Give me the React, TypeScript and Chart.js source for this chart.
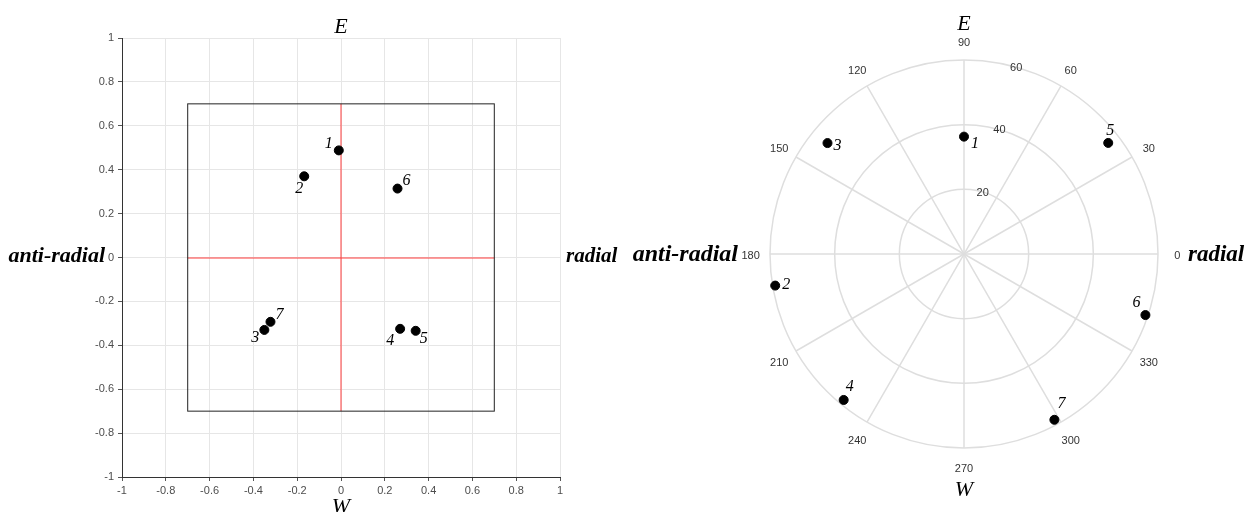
import React, { useEffect, useRef } from 'react';
import { Chart, registerables } from 'chart.js';

Chart.register(...registerables);

// ---------- data ----------
const pointNames = ['1', '2', '3', '4', '5', '6', '7'];
const cartX = [-0.01, -0.168, -0.35, 0.27, 0.341, 0.258, -0.322];
const cartY = [0.488, 0.37, -0.33, -0.325, -0.334, 0.314, -0.293];
const cartTicks = [-1, -0.8, -0.6, -0.4, -0.2, 0, 0.2, 0.4, 0.6, 0.8, 1];
const cartBox = [-0.7, 0.7];

const polarTheta = [90, 189.5, 140.9, 230.5, 37.6, 341.4, 298.6];
const polarR = [36.3, 59.2, 54.4, 58.5, 56.3, 59.2, 58.4];
const angleTicks = [0, 30, 60, 90, 120, 150, 180, 210, 240, 270, 300, 330];
const ringTicks = [20, 40, 60];

const titleTop = 'E';
const titleBottom = 'W';
const titleLeft = 'anti-radial';
const titleRight = 'radial';

// ---------- label styling (pixel offsets) ----------
const cartLabelOffsets = [[-10, -7], [-5, 13], [-9, 8], [-10, 12], [8, 8], [9, -8], [9, -7]];
const polarLabelOffsets = [[11, 7], [11, -1], [10, 3], [6, -13], [2, -12], [-9, -12], [7, -16]];

const SERIF = '"Liberation Serif", "DejaVu Serif", serif';
const SANS = '"Liberation Sans", Arial, sans-serif';

const cartPlugin = {
  id: 'cartText',
  beforeDatasetsDraw(chart: any) {
    const ctx = chart.ctx;
    const xs = chart.scales.x;
    const ys = chart.scales.y;
    const [lo, hi] = cartBox;
    const x0 = xs.getPixelForValue(lo);
    const x1 = xs.getPixelForValue(hi);
    const y0 = ys.getPixelForValue(lo);
    const y1 = ys.getPixelForValue(hi);
    const cx = xs.getPixelForValue(0);
    const cy = ys.getPixelForValue(0);
    ctx.save();
    ctx.lineWidth = 1;
    ctx.strokeStyle = '#ff3c3c';
    ctx.beginPath();
    ctx.moveTo(cx, y0);
    ctx.lineTo(cx, y1);
    ctx.stroke();
    ctx.lineWidth = 1.2;
    ctx.beginPath();
    ctx.moveTo(x0, cy + 0.5);
    ctx.lineTo(x1, cy + 0.5);
    ctx.stroke();
    ctx.lineWidth = 1;
    ctx.strokeStyle = '#222';
    ctx.strokeRect(x0, y1, x1 - x0, y0 - y1);
    ctx.restore();
  },
  afterDatasetsDraw(chart: any) {
    const ctx = chart.ctx;
    const meta = chart.getDatasetMeta(0);
    ctx.save();
    ctx.font = `italic 16px ${SERIF}`;
    ctx.fillStyle = '#000';
    ctx.textAlign = 'center';
    ctx.textBaseline = 'middle';
    meta.data.forEach((el: any, i: number) => {
      ctx.fillText(pointNames[i], el.x + cartLabelOffsets[i][0], el.y + cartLabelOffsets[i][1]);
    });
    ctx.restore();
  },
  afterDraw(chart: any) {
    const ctx = chart.ctx;
    const xs = chart.scales.x;
    const ys = chart.scales.y;
    const cx = xs.getPixelForValue(0);
    const cy = ys.getPixelForValue(0);
    ctx.save();
    ctx.fillStyle = '#000';
    ctx.textBaseline = 'alphabetic';
    ctx.textAlign = 'center';
    ctx.font = `italic 22px ${SERIF}`;
    ctx.fillText(titleTop, cx, 33);
    ctx.fillText(titleBottom, cx, 513);
    ctx.font = `italic bold 22px ${SERIF}`;
    ctx.textAlign = 'right';
    ctx.fillText(titleLeft, 105, cy + 4);
    ctx.font = `italic bold 21px ${SERIF}`;
    ctx.textAlign = 'left';
    ctx.fillText(titleRight, 566, cy + 4);
    ctx.restore();
  },
};

const polarPlugin = {
  id: 'polarGrid',
  beforeDatasetsDraw(chart: any) {
    const ctx = chart.ctx;
    const xs = chart.scales.x;
    const ys = chart.scales.y;
    const cx = xs.getPixelForValue(0);
    const cy = ys.getPixelForValue(0);
    const pol = (r: number, a: number) => [
      xs.getPixelForValue(r * Math.cos((a * Math.PI) / 180)),
      ys.getPixelForValue(r * Math.sin((a * Math.PI) / 180)),
    ];
    const outer = ringTicks[ringTicks.length - 1];
    ctx.save();
    ctx.strokeStyle = '#dedede';
    ctx.lineWidth = 1.5;
    ringTicks.forEach((r) => {
      const rp = xs.getPixelForValue(r) - cx;
      ctx.beginPath();
      ctx.arc(cx, cy, rp, 0, Math.PI * 2);
      ctx.stroke();
    });
    angleTicks.forEach((a) => {
      const [px, py] = pol(outer, a);
      ctx.beginPath();
      ctx.moveTo(cx, cy);
      ctx.lineTo(px, py);
      ctx.stroke();
    });
    ctx.fillStyle = '#333';
    ctx.font = `11px ${SANS}`;
    ctx.textAlign = 'center';
    ctx.textBaseline = 'middle';
    angleTicks.forEach((a) => {
      const [px, py] = pol(outer * 1.1, a);
      ctx.fillText(String(a), px, py + 2);
    });
    ringTicks.forEach((r) => {
      const [px, py] = pol(r, 75);
      ctx.fillText(String(r), px + 2, py + 1);
    });
    ctx.restore();
  },
  afterDatasetsDraw(chart: any) {
    const ctx = chart.ctx;
    const meta = chart.getDatasetMeta(0);
    ctx.save();
    ctx.font = `italic 16px ${SERIF}`;
    ctx.fillStyle = '#000';
    ctx.textAlign = 'center';
    ctx.textBaseline = 'middle';
    meta.data.forEach((el: any, i: number) => {
      ctx.fillText(pointNames[i], el.x + polarLabelOffsets[i][0], el.y + polarLabelOffsets[i][1]);
    });
    const xs = chart.scales.x;
    const ys = chart.scales.y;
    const cx = xs.getPixelForValue(0);
    const cy = ys.getPixelForValue(0);
    ctx.textBaseline = 'alphabetic';
    ctx.font = `italic 22px ${SERIF}`;
    ctx.fillText(titleTop, cx, 30);
    ctx.fillText(titleBottom, cx, 496);
    ctx.font = `italic bold 24px ${SERIF}`;
    ctx.textAlign = 'right';
    ctx.fillText(titleLeft, 110, cy + 7);
    ctx.font = `italic bold 23px ${SERIF}`;
    ctx.textAlign = 'left';
    ctx.fillText(titleRight, 560, cy + 7);
    ctx.restore();
  },
};

function CartChart() {
  const ref = useRef<HTMLCanvasElement>(null);
  useEffect(() => {
    if (!ref.current) return;
    const axis = (isX: boolean) => ({
      type: 'linear' as const,
      min: -1,
      max: 1,
      afterBuildTicks: (scale: any) => {
        scale.ticks = cartTicks.map((v) => ({ value: v }));
      },
      afterFit: (scale: any) => {
        if (isX) scale.height = 35;
        else scale.width = 122;
      },
      ticks: {
        callback: (v: any) => String(v),
        color: '#4d4d4d',
        font: { family: SANS, size: 11 },
        padding: isX ? 3 : 4,
        autoSkip: false,
        maxRotation: 0,
      },
      grid: {
        color: '#e6e6e6',
        lineWidth: 1,
        tickColor: '#555',
        tickLength: 4,
      },
      border: { display: true, color: '#333', width: 1 },
    });
    const chart = new Chart(ref.current, {
      type: 'scatter',
      data: {
        datasets: [
          {
            data: cartX.map((x, i) => ({ x, y: cartY[i] })),
            backgroundColor: '#000',
            borderColor: '#000',
            pointRadius: 4.5,
            showLine: false,
          },
        ],
      },
      options: {
        animation: false,
        responsive: false,
        events: [],
        layout: { padding: { left: 0, top: 38, right: 68, bottom: 0 } },
        plugins: { legend: { display: false }, tooltip: { enabled: false } },
        scales: { x: axis(true), y: axis(false) },
      },
      plugins: [cartPlugin],
    });
    return () => chart.destroy();
  }, []);
  return <canvas ref={ref} width={628} height={512} />;
}

function PolarChart() {
  const ref = useRef<HTMLCanvasElement>(null);
  useEffect(() => {
    if (!ref.current) return;
    const outer = ringTicks[ringTicks.length - 1];
    const chart = new Chart(ref.current, {
      type: 'scatter',
      data: {
        datasets: [
          {
            data: polarTheta.map((t, i) => ({
              x: polarR[i] * Math.cos((t * Math.PI) / 180),
              y: polarR[i] * Math.sin((t * Math.PI) / 180),
            })),
            backgroundColor: '#000',
            borderColor: '#000',
            pointRadius: 4.5,
          },
        ],
      },
      options: {
        animation: false,
        responsive: false,
        events: [],
        layout: { padding: { left: 142, top: 60, right: 91, bottom: 64 } },
        plugins: { legend: { display: false }, tooltip: { enabled: false } },
        scales: {
          x: { type: 'linear', min: -outer, max: outer, display: false },
          y: { type: 'linear', min: -outer, max: outer, display: false },
        },
      },
      plugins: [polarPlugin],
    });
    return () => chart.destroy();
  }, []);
  return <canvas ref={ref} width={621} height={512} />;
}

export default function App() {
  return (
    <div style={{ position: 'absolute', left: 0, top: 0, width: 1249, height: 512, background: '#fff', overflow: 'hidden' }}>
      <div style={{ position: 'absolute', left: 0, top: 0 }}>
        <CartChart />
      </div>
      <div style={{ position: 'absolute', left: 628, top: 0 }}>
        <PolarChart />
      </div>
    </div>
  );
}
